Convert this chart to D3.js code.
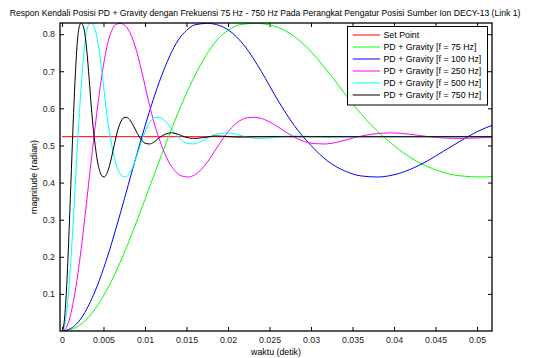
<!DOCTYPE html>
<html>
<head>
<meta charset="utf-8">
<script src="https://cdn.jsdelivr.net/npm/d3@7/dist/d3.min.js"></script>
<style>
  html, body { margin: 0; padding: 0; background: #fff; }
  svg { display: block; font-family: "Liberation Sans", Arial, sans-serif; }
</style>
</head>
<body>
<svg id="chart" width="537" height="358"></svg>
<script>
// ---------------- data ----------------
const titleText = "Respon Kendali Posisi PD + Gravity dengan Frekuensi 75 Hz - 750 Hz Pada Perangkat Pengatur Posisi Sumber Ion DECY-13 (Link 1)";
const xLabelText = "waktu (detik)";
const yLabelText = "magnitude (radian)";

const xTicks = [0, 0.005, 0.01, 0.015, 0.02, 0.025, 0.03, 0.035, 0.04, 0.045, 0.05];
const xTickLabels = ["0", "0.005", "0.01", "0.015", "0.02", "0.025", "0.03", "0.035", "0.04", "0.045", "0.05"];
const yTicks = [0.1, 0.2, 0.3, 0.4, 0.5, 0.6, 0.7, 0.8];
const yTickLabels = ["0.1", "0.2", "0.3", "0.4", "0.5", "0.6", "0.7", "0.8"];

const seriesNames = ["Set Point", "PD + Gravity [f = 75 Hz]", "PD + Gravity [f = 100 Hz]",
                     "PD + Gravity [f = 250 Hz]", "PD + Gravity [f = 500 Hz]", "PD + Gravity [f = 750 Hz]"];
const seriesColors = ["#ff0000", "#00ff00", "#0000ff", "#ff00ff", "#00ffff", "#000000"];

// [time (s), magnitude (rad)]
const setPoint = [[0, 0.5236], [0.0518, 0.5236]];

const f75 = [[0,0],[0.001333,0.006],[0.002667,0.025],[0.004,0.06],[0.005333,0.108],[0.006667,0.168],
  [0.008,0.238],[0.009333,0.315],[0.010667,0.395],[0.012,0.475],[0.013333,0.552],[0.014667,0.624],
  [0.016,0.688],[0.017333,0.742],[0.018667,0.784],[0.02,0.81],[0.021333,0.825],[0.023333,0.829],
  [0.025333,0.823],[0.026667,0.812],[0.029333,0.768],[0.032,0.70],[0.034667,0.622],[0.037333,0.553],
  [0.04,0.500],[0.042667,0.458],[0.045333,0.432],[0.048,0.418],[0.050667,0.415],[0.052,0.416]];

const f100 = [[0,0],[0.001,0.006],[0.002,0.025],[0.003,0.06],[0.004,0.108],[0.005,0.168],[0.006,0.238],
  [0.007,0.315],[0.008,0.395],[0.009,0.475],[0.010,0.552],[0.011,0.624],[0.012,0.688],[0.013,0.742],
  [0.014,0.784],[0.015,0.81],[0.016,0.825],[0.0175,0.829],[0.019,0.823],[0.020,0.812],[0.022,0.768],
  [0.024,0.70],[0.026,0.622],[0.028,0.553],[0.030,0.500],[0.032,0.458],[0.034,0.432],[0.036,0.418],
  [0.038,0.415],[0.040,0.421],[0.042,0.436],[0.044,0.458],[0.046,0.485],[0.048,0.512],[0.050,0.537],
  [0.052,0.556]];

const f250 = [[0,0],[0.0004,0.006],[0.0008,0.025],[0.0012,0.06],[0.0016,0.108],[0.002,0.168],[0.0024,0.238],
  [0.0028,0.315],[0.0032,0.395],[0.0036,0.475],[0.004,0.552],[0.0044,0.624],[0.0048,0.688],[0.0052,0.742],
  [0.0056,0.784],[0.006,0.81],[0.0064,0.825],[0.007,0.829],[0.0076,0.823],[0.008,0.812],[0.0088,0.768],
  [0.0096,0.70],[0.0104,0.622],[0.0112,0.553],[0.012,0.500],[0.0128,0.458],[0.0136,0.432],[0.0144,0.418],
  [0.0152,0.415],[0.016,0.421],[0.0168,0.436],[0.0176,0.458],[0.0184,0.485],[0.0192,0.512],[0.02,0.537],
  [0.0208,0.556],[0.0216,0.569],[0.0224,0.575],[0.0232,0.576],[0.024,0.573],[0.0256,0.556],[0.0272,0.533],
  [0.0288,0.514],[0.0304,0.505],[0.0316,0.504],[0.0332,0.509],[0.0352,0.521],[0.0372,0.530],[0.0396,0.534],
  [0.042,0.530],[0.0444,0.523],[0.0476,0.519],[0.0508,0.521],[0.052,0.5225]];

const f500 = [[0,0],[0.0002,0.006],[0.0004,0.025],[0.0006,0.06],[0.0008,0.108],[0.001,0.168],[0.0012,0.238],
  [0.0014,0.315],[0.0016,0.395],[0.0018,0.475],[0.002,0.552],[0.0022,0.624],[0.0024,0.688],[0.0026,0.742],
  [0.0028,0.784],[0.003,0.81],[0.0032,0.825],[0.0035,0.829],[0.0038,0.823],[0.004,0.812],[0.0044,0.768],
  [0.0048,0.70],[0.0052,0.622],[0.0056,0.553],[0.006,0.500],[0.0064,0.458],[0.0068,0.432],[0.0072,0.418],
  [0.0076,0.415],[0.008,0.421],[0.0084,0.436],[0.0088,0.458],[0.0092,0.485],[0.0096,0.512],[0.01,0.537],
  [0.0104,0.556],[0.0108,0.569],[0.0112,0.575],[0.0116,0.576],[0.012,0.573],[0.0128,0.556],[0.0136,0.533],
  [0.0144,0.514],[0.0152,0.505],[0.0158,0.504],[0.0166,0.509],[0.0176,0.521],[0.0186,0.530],[0.0198,0.534],
  [0.021,0.530],[0.0222,0.523],[0.0238,0.519],[0.0254,0.521],[0.0278,0.5255],[0.030,0.524],[0.032,0.5225],
  [0.036,0.5236],[0.052,0.5236]];

const f750 = [[0,0],[0.000133,0.006],[0.000267,0.025],[0.0004,0.06],[0.000533,0.108],[0.000667,0.168],
  [0.0008,0.238],[0.000933,0.315],[0.001067,0.395],[0.0012,0.475],[0.001333,0.552],[0.001467,0.624],
  [0.0016,0.688],[0.001733,0.742],[0.001867,0.784],[0.002,0.81],[0.002133,0.825],[0.002333,0.829],
  [0.002533,0.823],[0.002667,0.812],[0.002933,0.768],[0.0032,0.70],[0.003467,0.622],[0.003733,0.553],
  [0.004,0.500],[0.004267,0.458],[0.004533,0.432],[0.0048,0.418],[0.005067,0.415],[0.005333,0.421],
  [0.0056,0.436],[0.005867,0.458],[0.006133,0.485],[0.0064,0.512],[0.006667,0.537],[0.006933,0.556],
  [0.0072,0.569],[0.007467,0.575],[0.007733,0.576],[0.008,0.573],[0.008533,0.556],[0.009067,0.533],
  [0.0096,0.514],[0.010133,0.505],[0.010533,0.504],[0.011067,0.509],[0.011733,0.521],[0.0124,0.530],
  [0.0132,0.534],[0.014,0.530],[0.0148,0.523],[0.015867,0.519],[0.016933,0.521],[0.018533,0.5255],
  [0.02,0.524],[0.021333,0.5225],[0.024,0.5236],[0.052,0.5236]];

const allSeries = [setPoint, f75, f100, f250, f500, f750];

// ---------------- layout ----------------
const svg = d3.select("#chart");
const L = 60, R = 492, T = 23, B = 331;
const x = d3.scaleLinear().domain([-0.00024, 0.0518]).range([L, R]);
const y = d3.scaleLinear().domain([0, 0.83]).range([B, T]);
const fontSize = 8.8;
const titleSize = 8.6;

svg.append("defs").append("clipPath").attr("id", "clip")
  .append("rect").attr("x", L).attr("y", T).attr("width", R - L).attr("height", B - T);

svg.append("rect").attr("x", L).attr("y", T).attr("width", R - L).attr("height", B - T).attr("fill", "#fff");

// axes with inward ticks (all four sides)
const tickLen = 4;
const xAxisB = d3.axisBottom(x).tickValues(xTicks).tickFormat((d, i) => xTickLabels[i]).tickSizeInner(-tickLen).tickSizeOuter(0).tickPadding(6);
const xAxisT = d3.axisTop(x).tickValues(xTicks).tickFormat("").tickSizeInner(-tickLen).tickSizeOuter(0);
const yAxisL = d3.axisLeft(y).tickValues(yTicks).tickFormat((d, i) => yTickLabels[i]).tickSizeInner(-tickLen).tickSizeOuter(0).tickPadding(5);
const yAxisR = d3.axisRight(y).tickValues(yTicks).tickFormat("").tickSizeInner(-tickLen).tickSizeOuter(0);

function styleAxis(g) {
  g.select(".domain").remove();
  g.selectAll(".tick line").attr("stroke", "#000").attr("stroke-width", 1);
  g.selectAll(".tick text").attr("fill", "#222").style("font-size", fontSize + "px")
    .style("font-family", '"Liberation Sans", Arial, sans-serif');
}
svg.append("g").attr("transform", `translate(0,${B})`).call(xAxisB).call(styleAxis);
svg.append("g").attr("transform", `translate(0,${T})`).call(xAxisT).call(styleAxis);
svg.append("g").attr("transform", `translate(${L},0)`).call(yAxisL).call(styleAxis);
svg.append("g").attr("transform", `translate(${R},0)`).call(yAxisR).call(styleAxis);

// lines
const line = d3.line().x(d => x(d[0])).y(d => y(d[1])).curve(d3.curveMonotoneX);
const plot = svg.append("g").attr("clip-path", "url(#clip)");
allSeries.forEach((s, i) => {
  plot.append("path").datum(s).attr("d", line)
    .attr("fill", "none").attr("stroke", seriesColors[i]).attr("stroke-width", 1);
});

// frame
svg.append("rect").attr("x", L).attr("y", T).attr("width", R - L).attr("height", B - T)
  .attr("fill", "none").attr("stroke", "#000").attr("stroke-width", 1.3);

// title & labels
svg.append("text").attr("x", 265).attr("y", 16).attr("text-anchor", "middle")
  .style("font-size", titleSize + "px").attr("fill", "#000").text(titleText);
svg.append("text").attr("x", (L + R) / 2).attr("y", 355).attr("text-anchor", "middle")
  .style("font-size", fontSize + "px").attr("fill", "#000").text(xLabelText);
svg.append("text").attr("transform", `translate(37,${(T + B) / 2}) rotate(-90)`).attr("text-anchor", "middle")
  .style("font-size", fontSize + "px").attr("fill", "#000").text(yLabelText);

// legend
const lg = svg.append("g");
lg.append("rect").attr("x", 347.5).attr("y", 26.5).attr("width", 140).attr("height", 78.5)
  .attr("fill", "#fff").attr("stroke", "#000").attr("stroke-width", 1);
seriesNames.forEach((name, i) => {
  const yy = 35 + 12 * i;
  lg.append("line").attr("x1", 352.7).attr("x2", 380).attr("y1", yy).attr("y2", yy)
    .attr("stroke", seriesColors[i]).attr("stroke-width", 1);
  lg.append("text").attr("x", 383.5).attr("y", yy + 3.2)
    .style("font-size", fontSize + "px").attr("fill", "#000").text(name);
});
</script>
</body>
</html>
